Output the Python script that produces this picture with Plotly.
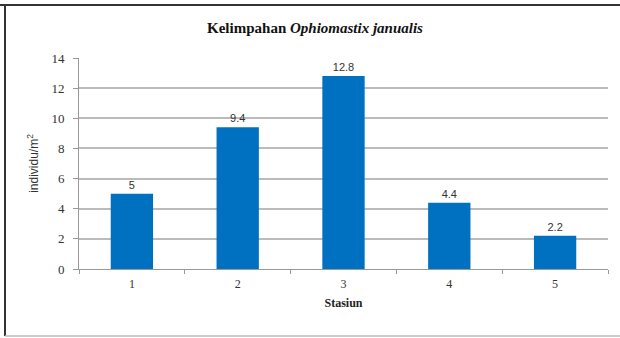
import plotly.graph_objects as go

# Abundance per station
stations = ["1", "2", "3", "4", "5"]
abundance = [5, 9.4, 12.8, 4.4, 2.2]
y_ticks = [0, 2, 4, 6, 8, 10, 12, 14]

SERIF = "Liberation Serif, Times New Roman, serif"
SANS = "Liberation Sans, Arial, sans-serif"

fig = go.Figure()
fig.add_trace(go.Bar(
    x=stations,
    y=abundance,
    width=0.4,
    marker=dict(color="#0070C0", line=dict(width=0)),
    text=[f"{v:g}" for v in abundance],
    textposition="outside",
    textfont=dict(family=SANS, size=11, color="#333333"),
    cliponaxis=False,
))

fig.update_layout(
    width=620,
    height=338,
    margin=dict(l=79, r=12, t=58, b=69),
    paper_bgcolor="white",
    plot_bgcolor="white",
    showlegend=False,
    title=dict(
        text="<b>Kelimpahan <i>Ophiomastix janualis</i></b>",
        x=315 / 620, xref="container", xanchor="center",
        y=1 - 28 / 338, yref="container", yanchor="middle",
        font=dict(family=SERIF, size=15, color="#111111"),
    ),
    xaxis=dict(
        type="category",
        showline=True, linecolor="#999999", linewidth=1,
        ticks="outside", ticklen=4, tickcolor="#999999",
        tickson="boundaries",
        showgrid=False,
        tickfont=dict(family=SERIF, size=12, color="#333333"),
        ticklabelstandoff=4,
        title=dict(text="<b>Stasiun</b>", standoff=8,
                   font=dict(family=SERIF, size=12, color="#222222")),
    ),
    yaxis=dict(
        range=[0, 14],
        tickvals=y_ticks,
        showline=True, linecolor="#999999", linewidth=1,
        ticks="outside", ticklen=5, tickcolor="#999999",
        showgrid=True, gridcolor="#BBBBBB", gridwidth=1.5,
        zeroline=False,
        tickfont=dict(family=SERIF, size=13, color="#333333"),
        ticklabelstandoff=6,
        title=dict(text="individu/m<sup>2</sup>", standoff=10,
                   font=dict(family=SANS, size=12, color="#333333")),
    ),
    bargap=0.6,
)

# Outer frame of the chart
fig.add_shape(type="line", xref="paper", yref="paper",
              x0=-79 / 529, x1=1 + 12 / 529, y0=1 + 53 / 211, y1=1 + 53 / 211,
              line=dict(color="#333333", width=2))
fig.add_shape(type="line", xref="paper", yref="paper",
              x0=-74 / 529, x1=-74 / 529, y0=1 + 53 / 211, y1=-67 / 211,
              line=dict(color="#333333", width=2))
fig.add_shape(type="line", xref="paper", yref="paper",
              x0=-74 / 529, x1=1 + 12 / 529, y0=-67 / 211, y1=-67 / 211,
              line=dict(color="#BBBBBB", width=1.5))

fig.write_html("out.html")
